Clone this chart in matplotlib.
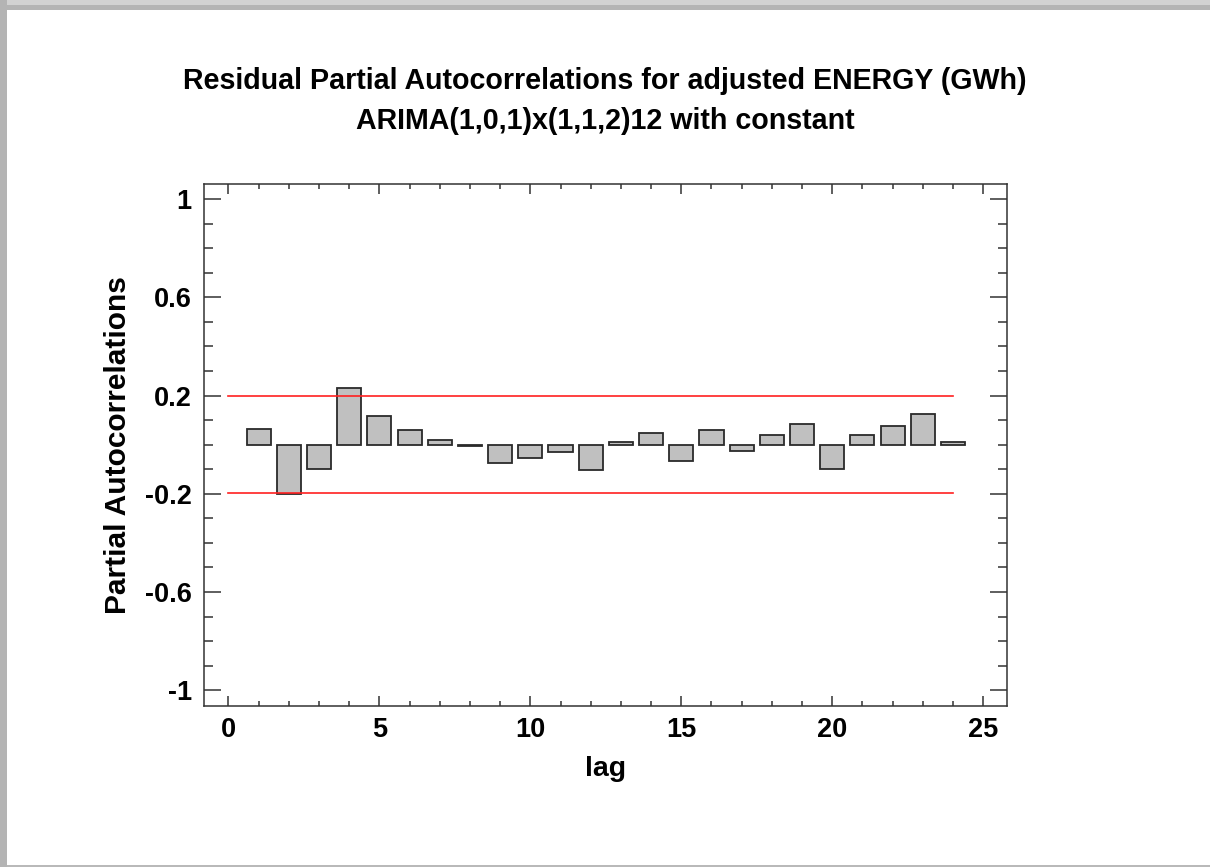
import matplotlib
matplotlib.use("Agg")
import matplotlib.pyplot as plt
from matplotlib.patches import Rectangle
from matplotlib.ticker import MultipleLocator, FixedLocator

plt.rcParams['font.family'] = ['Liberation Sans', 'DejaVu Sans']
plt.rcParams['font.weight'] = 'bold'

# residual partial autocorrelations
lags = list(range(1, 25))
pacf = [0.065, -0.199, -0.100, 0.229, 0.116, 0.060, 0.021, -0.005,
        -0.073, -0.056, -0.030, -0.105, 0.010, 0.049, -0.067, 0.060,
        -0.024, 0.040, 0.086, -0.100, 0.040, 0.078, 0.123, 0.012]
limit = 0.198          # 95% probability limits
limit_x = [0, 24]

title1 = "Residual Partial Autocorrelations for adjusted ENERGY (GWh)"
title2 = "ARIMA(1,0,1)x(1,1,2)12 with constant"
yticks = [-1, -0.6, -0.2, 0.2, 0.6, 1]
ytick_labels = ["-1", "-0.6", "-0.2", "0.2", "0.6", "1"]

W, H = 1210, 867
fig = plt.figure(figsize=(W / 100, H / 100), dpi=100)
fig.patch.set_facecolor('white')

# screenshot shadow frame
fig.add_artist(Rectangle((0, 1 - 10 / H), 1, 10 / H, transform=fig.transFigure,
                         color='#b4b4b4', lw=0))
fig.add_artist(Rectangle((0, 1 - 4.5 / H), 1, 4.5 / H, transform=fig.transFigure,
                         color='#d2d2d2', lw=0))
fig.add_artist(Rectangle((0, 0), 7 / W, 1, transform=fig.transFigure,
                         color='#b4b4b4', lw=0))
fig.add_artist(Rectangle((7 / W, 0), 1, 2 / H, transform=fig.transFigure,
                         color='#b9b9b9', lw=0))

ax = fig.add_axes([204.3 / W, 1 - 705.7 / H, 803 / W, 522 / H])

ax.bar(lags, pacf, width=0.8, color='#c0c0c0', edgecolor='#2a2a2a',
       linewidth=1.3, zorder=2)
ax.plot(limit_x, [limit, limit], color='#ff2020', lw=1.2, zorder=3)
ax.plot(limit_x, [-limit, -limit], color='#ff2020', lw=1.2, zorder=3)

ax.set_xlim(-0.8, 25.8)
ax.set_ylim(-1.063, 1.063)

ax.xaxis.set_major_locator(MultipleLocator(5))
ax.xaxis.set_minor_locator(MultipleLocator(1))
ax.yaxis.set_major_locator(FixedLocator(yticks))
ax.yaxis.set_minor_locator(MultipleLocator(0.1))
ax.set_yticklabels(ytick_labels)

for s in ax.spines.values():
    s.set_linewidth(1.1)
    s.set_color('#333333')

ax.tick_params(axis='both', which='both', direction='in', color='#333333',
               width=1.1, top=True, right=True, labelsize=19.5)
ax.tick_params(axis='x', which='major', length=7.2, pad=8)
ax.tick_params(axis='x', which='minor', length=3.8)
ax.tick_params(axis='y', which='major', length=12.5, pad=9)
ax.tick_params(axis='y', which='minor', length=6.8)
for lab in ax.get_xticklabels() + ax.get_yticklabels():
    lab.set_fontweight('bold')

fig.text(0.5, 1 - 89.3 / H, title1, ha='center', va='baseline',
         fontsize=20.6, fontweight='bold')
fig.text(0.5, 1 - 129.3 / H, title2, ha='center', va='baseline',
         fontsize=20.6, fontweight='bold')
fig.text(605.8 / W, 1 - 776 / H, "lag", ha='center', va='baseline',
         fontsize=20.5, fontweight='bold')
fig.text(118 / W, 1 - 444.7 / H, "Partial Autocorrelations", ha='center',
         va='center', rotation=90, fontsize=21.5, fontweight='bold')

fig.savefig("out.png", dpi=100)
